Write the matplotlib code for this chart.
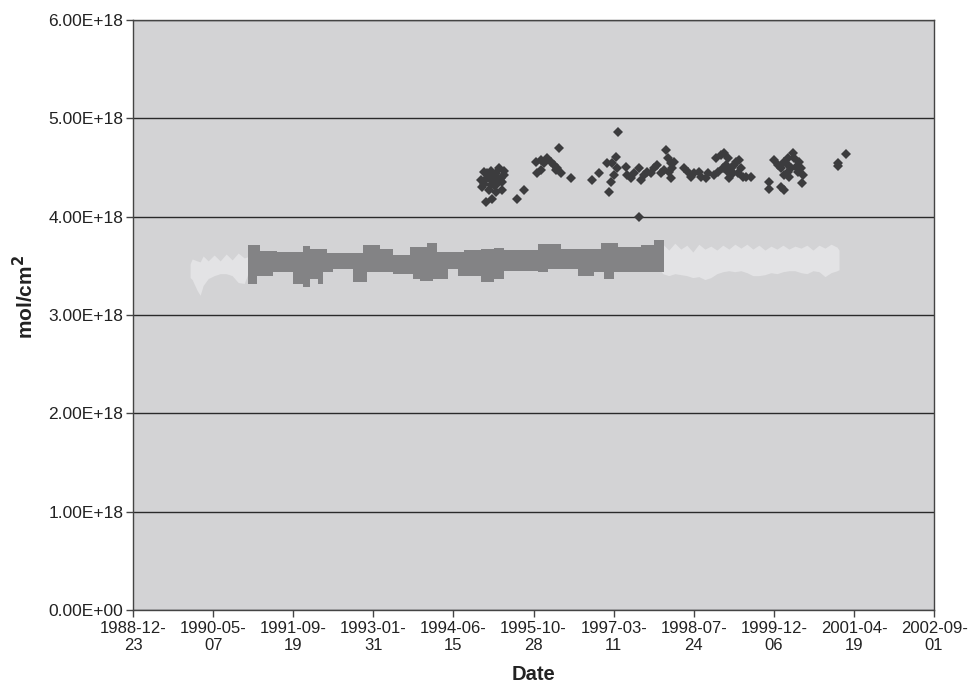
import numpy as np
import matplotlib
matplotlib.use("Agg")
import matplotlib.pyplot as plt
import matplotlib.dates as mdates
from datetime import datetime

plt.rcParams['font.family'] = ['Liberation Sans', 'DejaVu Sans']

# ---------------- data (decimal years, values in units of 1e18 mol/cm2) --------------
tick_dates = ['1988-12-23', '1990-05-07', '1991-09-19', '1993-01-31', '1994-06-15',
              '1995-10-28', '1997-03-11', '1998-07-24', '1999-12-06', '2001-04-19',
              '2002-09-01']
y_ticks = [0, 1, 2, 3, 4, 5, 6]

# light-gray series (envelope of the dense points)
light_year = [1989.950, 1989.985, 1990.070, 1990.122, 1990.173, 1990.259, 1990.361,
              1990.464, 1990.567, 1990.669, 1990.772, 1990.875, 1990.977, 1994.500,
              1997.950, 1998.028, 1998.131, 1998.234, 1998.336, 1998.439, 1998.542,
              1998.644, 1998.747, 1998.850, 1998.952, 1999.055, 1999.158, 1999.260,
              1999.363, 1999.466, 1999.568, 1999.671, 1999.774, 1999.876, 1999.979,
              2000.082, 2000.184, 2000.287, 2000.390, 2000.492, 2000.595, 2000.698,
              2000.800, 2000.903, 2001.006, 2001.040]
light_low = [3.38, 3.36, 3.25, 3.20, 3.30, 3.37, 3.40, 3.42, 3.42, 3.40, 3.33, 3.32,
             3.48, 3.48, 3.48, 3.42, 3.40, 3.42, 3.41, 3.40, 3.38, 3.39, 3.36, 3.38,
             3.42, 3.44, 3.45, 3.44, 3.45, 3.43, 3.40, 3.40, 3.41, 3.43, 3.42, 3.44,
             3.45, 3.45, 3.43, 3.42, 3.45, 3.44, 3.39, 3.43, 3.45, 3.46]
light_high = [3.52, 3.57, 3.55, 3.54, 3.60, 3.55, 3.61, 3.55, 3.62, 3.56, 3.63, 3.58,
              3.60, 3.60, 3.60, 3.72, 3.66, 3.73, 3.67, 3.71, 3.64, 3.72, 3.67, 3.70,
              3.66, 3.71, 3.67, 3.72, 3.68, 3.72, 3.67, 3.71, 3.66, 3.70, 3.67, 3.71,
              3.67, 3.70, 3.68, 3.71, 3.66, 3.71, 3.68, 3.72, 3.69, 3.66]

# dark-gray series (envelope of the dense square points)
dark_year = [1990.943, 1991.097, 1991.148, 1991.371, 1991.439, 1991.713, 1991.884,
             1992.004, 1992.141, 1992.227, 1992.295, 1992.398, 1992.740, 1992.911,
             1992.980, 1993.202, 1993.425, 1993.716, 1993.767, 1993.887, 1994.007,
             1994.109, 1994.178, 1994.349, 1994.520, 1994.623, 1994.914, 1995.136,
             1995.307, 1995.889, 1996.060, 1996.283, 1996.574, 1996.847, 1996.967,
             1997.019, 1997.190, 1997.258, 1997.652, 1997.874, 1998.045]
dark_high = [3.71, 3.71, 3.65, 3.65, 3.64, 3.64, 3.70, 3.67, 3.67, 3.67, 3.63, 3.63,
             3.63, 3.71, 3.71, 3.67, 3.61, 3.69, 3.69, 3.69, 3.73, 3.73, 3.64, 3.64,
             3.64, 3.66, 3.67, 3.68, 3.66, 3.72, 3.72, 3.67, 3.67, 3.67, 3.73, 3.73,
             3.73, 3.69, 3.71, 3.76, 3.76]
dark_low = [3.32, 3.40, 3.40, 3.44, 3.44, 3.32, 3.28, 3.37, 3.32, 3.44, 3.44, 3.47,
            3.34, 3.34, 3.44, 3.44, 3.42, 3.42, 3.37, 3.35, 3.35, 3.37, 3.37, 3.47,
            3.40, 3.40, 3.34, 3.37, 3.45, 3.44, 3.47, 3.47, 3.40, 3.44, 3.44, 3.37,
            3.44, 3.44, 3.44, 3.44, 3.44]

# dark diamonds
dia_year = [1994.971, 1995.085, 1995.227, 1995.313, 1994.914, 1995.028, 1995.142,
            1995.256, 1994.971, 1995.085, 1995.199, 1995.284, 1995.056, 1995.170,
            1995.284, 1995.000, 1995.113, 1994.942, 1995.313, 1995.170, 1995.028,
            1995.085, 1995.199, 1995.142, 1995.056,
            1995.541, 1995.655,
            1995.855, 1995.941, 1996.055, 1996.112, 1996.169, 1996.254, 1996.226,
            1996.283, 1995.883, 1995.941, 1995.998, 1996.197, 1996.454,
            1996.825, 1996.939, 1997.110, 1997.139, 1997.196, 1997.082, 1997.167,
            1997.224, 1997.253, 1997.270, 1997.395, 1997.424, 1997.481, 1997.538,
            1997.623, 1997.652, 1997.709, 1997.766, 1997.823, 1997.880, 1997.937,
            1997.994, 1998.051, 1998.080, 1998.109, 1998.166, 1998.194, 1998.223,
            1998.166, 1998.137, 1998.394, 1998.451, 1998.508, 1998.565, 1998.651,
            1998.679, 1998.765, 1998.793, 1998.907, 1998.964, 1998.936, 1999.021,
            1999.078, 1999.107, 1999.135, 1999.192, 1999.249, 1999.221, 1999.164,
            1999.306, 1999.363, 1999.392, 1999.449, 1999.535, 1999.050, 1999.135,
            1999.278, 1999.335, 1997.623,
            1999.934, 1999.991, 2000.105, 2000.162, 2000.248, 2000.276, 2000.219,
            2000.305, 2000.333, 2000.390, 2000.419, 2000.407, 2000.048, 2000.105,
            2000.191, 1999.848, 1999.848, 2000.048, 2000.105, 2000.162, 2000.362,
            2000.162, 2001.018, 2001.018, 2001.161]
dia_val = [4.449, 4.463, 4.490, 4.463, 4.371, 4.388, 4.405, 4.388, 4.337, 4.320,
           4.337, 4.354, 4.269, 4.252, 4.269, 4.150, 4.184, 4.303, 4.422, 4.439,
           4.439, 4.371, 4.388, 4.320, 4.422,
           4.184, 4.269,
           4.558, 4.575, 4.592, 4.558, 4.524, 4.701, 4.490, 4.439, 4.439, 4.473,
           4.541, 4.473, 4.388,
           4.371, 4.439, 4.252, 4.354, 4.422, 4.541, 4.541, 4.609, 4.490, 4.864,
           4.507, 4.422, 4.388, 4.439, 4.490, 4.371, 4.422, 4.456, 4.439, 4.490,
           4.524, 4.439, 4.473, 4.677, 4.592, 4.541, 4.490, 4.558, 4.388, 4.456,
           4.490, 4.456, 4.405, 4.439, 4.456, 4.405, 4.388, 4.439, 4.422, 4.456,
           4.592, 4.626, 4.643, 4.524, 4.592, 4.490, 4.524, 4.439, 4.388, 4.439,
           4.490, 4.405, 4.405, 4.405, 4.490, 4.456, 4.558, 4.575, 3.997,
           4.575, 4.524, 4.558, 4.592, 4.643, 4.592, 4.490, 4.507, 4.456, 4.490,
           4.422, 4.344, 4.490, 4.422, 4.405, 4.354, 4.286, 4.303, 4.269, 4.456,
           4.558, 4.524, 4.541, 4.510, 4.633]

SCALE = 1e18
START = datetime(1988, 12, 23)
BASE_YEAR = 1988.975


def yr2num(y):
    return mdates.date2num(START) + (np.asarray(y, dtype=float) - BASE_YEAR) * 365.25


# ---------------- figure --------------
fig = plt.figure(figsize=(9.74, 6.89), dpi=100)
ax = fig.add_axes([0.1366, 0.1147, 0.8224, 0.8563])
ax.set_facecolor('#d3d3d5')

ax.fill_between(yr2num(light_year), np.array(light_low) * SCALE,
                np.array(light_high) * SCALE, color='#e3e3e5', lw=0, zorder=2)
ax.fill_between(yr2num(dark_year), np.array(dark_low) * SCALE,
                np.array(dark_high) * SCALE, step='post', color='#838385',
                lw=0, zorder=3)
ax.plot(yr2num(dia_year), np.array(dia_val) * SCALE, linestyle='none',
        marker='D', markersize=5.0, color='#3c3c3e', markeredgewidth=0, zorder=4)

tick_nums = [mdates.date2num(datetime.strptime(d, '%Y-%m-%d')) for d in tick_dates]
ax.set_xlim(tick_nums[0], tick_nums[-1])
ax.set_xticks(tick_nums)
ax.set_xticklabels([d[:8] + '\n' + d[8:] for d in tick_dates], fontsize=12,
                   color='#222222', linespacing=1.2)

ax.set_ylim(0, 6 * SCALE)
ax.set_yticks([v * SCALE for v in y_ticks])
ax.set_yticklabels(['%.2fE+%02d' % (v, 18) if v else '0.00E+00' for v in y_ticks],
                   fontsize=12.5, color='#222222')

ax.yaxis.grid(True, color='#2a2a2a', linewidth=1.0, zorder=1)
ax.set_axisbelow(True)
ax.tick_params(axis='both', direction='out', length=5, width=1, color='#444444')
ax.tick_params(axis='x', pad=3)
ax.tick_params(axis='y', pad=2)
for s in ax.spines.values():
    s.set_color('#444444')
    s.set_linewidth(1.0)

ax.set_xlabel('Date', fontsize=14.5, fontweight='bold', color='#222222', labelpad=8)
ax.set_ylabel('mol/cm$^{\\mathbf{2}}$', fontsize=15, fontweight='bold', color='#222222',
              labelpad=12)
ax.yaxis.set_label_coords(-0.12, 0.53)

fig.savefig('out.png', dpi=100, facecolor='white')
